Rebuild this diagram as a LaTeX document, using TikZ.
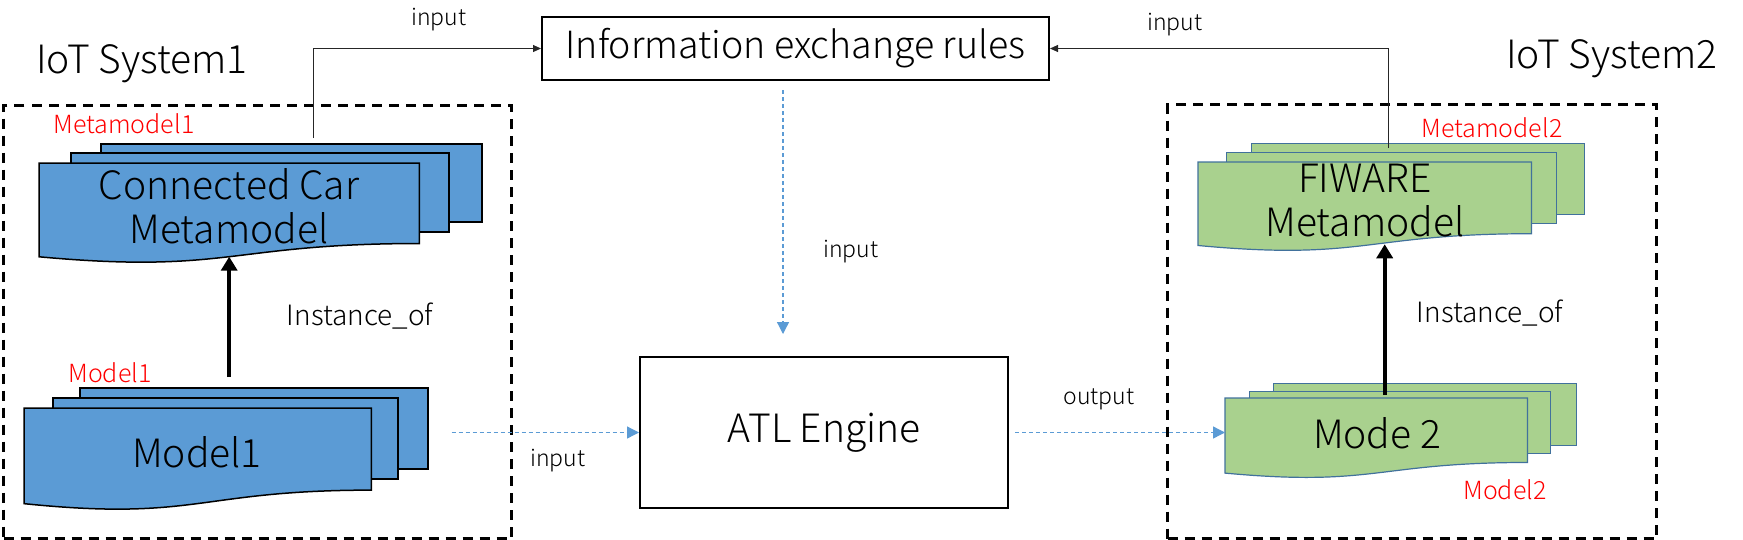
\documentclass[tikz,border=0pt]{standalone}
\usepackage{fontspec}
\setmainfont{Noto Sans CJK JP Light}
\usetikzlibrary{arrows.meta,calc}
\definecolor{docblue}{HTML}{5B9BD5}
\definecolor{docgreen}{HTML}{A9D18E}
\definecolor{docgreenline}{HTML}{41719C}
\definecolor{lblred}{HTML}{FF0000}
\newcommand{\docsheet}[2]{%
  \path[#1] (#2.north west) -- (#2.north east) -- ($(#2.north east)!0.802!(#2.south east)$)
    .. controls ($(#2.north)!0.802!(#2.south)$) and ($(#2.north)!1.108!(#2.south)$) ..
    ($(#2.north west)!0.934!(#2.south west)$) -- cycle;}
\tikzset{
  bigtxt/.style={font=\fontsize{39}{44}\selectfont, inner sep=0pt, align=center},
  smalltxt/.style={font=\fontsize{23}{27}\selectfont, inner sep=0pt},
  midtxt/.style={font=\fontsize{28}{32}\selectfont, inner sep=0pt},
  redtxt/.style={font=\fontsize{25}{30}\selectfont, text=lblred, inner sep=0pt},
  sheet/.style={inner sep=0pt, anchor=north west},
  bluefill/.style={fill=docblue, draw=black, line width=1.5pt},
  greenfill/.style={fill=docgreen, draw=docgreenline, line width=1.2pt},
  sysbox/.style={draw, line width=3pt, dash pattern=on 10pt off 7pt, inner sep=0pt, anchor=north west},
  plainbox/.style={draw, line width=2pt, inner sep=0pt, anchor=north west, font=\fontsize{39}{44}\selectfont},
  bluearrow/.style={draw=docblue, line width=1.3pt, dash pattern=on 4pt off 3pt, -{Triangle[length=12pt,width=12pt]}},
  thinarrow/.style={draw=black!85, line width=1pt, -{Triangle[length=8pt,width=7pt]}},
  thickarrow/.style={line width=4pt, -{Triangle[length=14pt,width=16pt]}}
}
\begin{document}
\begin{tikzpicture}[x=1pt,y=-1pt]
\useasboundingbox (0,0) rectangle (1743,539);
% system boxes
\node[sysbox, minimum width=508pt, minimum height=433pt] (sys1) at (2,104) {};
\node[sysbox, minimum width=489pt, minimum height=434pt] (sys2) at (1166,103) {};
\node[bigtxt] (sys1lbl) at (142,64) {IoT System1};
\node[bigtxt] (sys2lbl) at (1612,59) {IoT System2};
% central boxes
\node[plainbox, minimum width=507pt, minimum height=63pt, font=\fontsize{37.5}{44}\selectfont] (info) at (541,16) {Information exchange rules};
\node[plainbox, minimum width=368pt, minimum height=151pt] (atl) at (639,356) {ATL Engine};
% Metamodel1 stack
\node[sheet, bluefill, minimum width=381pt, minimum height=78pt] (mm1c) at (100,143) {};
\node[sheet, bluefill, minimum width=378pt, minimum height=79pt] (mm1b) at (70,152) {};
\node[sheet, minimum width=380pt, minimum height=100pt] (mm1a) at (39,163) {};
\docsheet{bluefill}{mm1a}
\node[bigtxt] (mm1t) at (229,206) {Connected Car\\Metamodel};
\node[redtxt] (mm1lbl) at (124,124) {Metamodel1};
% Model1 stack
\node[sheet, bluefill, minimum width=348pt, minimum height=81pt] (m1c) at (79,387) {};
\node[sheet, bluefill, minimum width=345pt, minimum height=81pt] (m1b) at (52,397) {};
\node[sheet, minimum width=347pt, minimum height=102pt] (m1a) at (24,408) {};
\docsheet{bluefill}{m1a}
\node[bigtxt] (m1t) at (197,452) {Model1};
\node[redtxt] (m1lbl) at (110,373) {Model1};
% Metamodel2 stack
\node[sheet, greenfill, minimum width=333pt, minimum height=71pt] (mm2c) at (1251,143) {};
\node[sheet, greenfill, minimum width=330pt, minimum height=71pt] (mm2b) at (1226,152) {};
\node[sheet, minimum width=333pt, minimum height=89pt] (mm2a) at (1198,162) {};
\docsheet{greenfill}{mm2a}
\node[bigtxt] (mm2t) at (1365,201) {FIWARE\\Metamodel};
\node[redtxt] (mm2lbl) at (1492,128) {Metamodel2};
% Model2 stack
\node[sheet, greenfill, minimum width=303pt, minimum height=62pt] (m2c) at (1273,383) {};
\node[sheet, greenfill, minimum width=301pt, minimum height=62pt] (m2b) at (1249,391) {};
\node[sheet, minimum width=302pt, minimum height=80pt] (m2a) at (1225,398) {};
\docsheet{greenfill}{m2a}
\node[bigtxt] (m2t) at (1377,433) {Mode 2};
\node[redtxt] (m2lbl) at (1505,490) {Model2};
% instance_of arrows
\coordinate (mm1bot) at ($(mm1a.north)!0.933!(mm1a.south)$);
\draw[thickarrow, shorten <=10pt] (mm1bot |- m1c.north) -- (mm1bot);
\coordinate (mm2bot) at ($(mm2a.north)!0.92!(mm2a.south)+(20,0)$);
\draw[thickarrow, shorten <=-12pt] (mm2bot |- m2c.north) -- (mm2bot);
\node[midtxt] (inst1) at (360,316) {Instance\_of};
\node[midtxt] (inst2) at (1490,313) {Instance\_of};
% input lines to rules
\draw[thinarrow, shorten <=5pt] ([xshift=22.5pt]mm1c.north) |- (info.west);
\draw[thinarrow] ([xshift=-29.5pt,yshift=-5pt]mm2c.north) |- (info.east);
\node[smalltxt] (in1) at (439,20) {input};
\node[smalltxt] (in2) at (1175,25) {input};
% dashed flows
\draw[bluearrow, shorten <=9pt, shorten >=22pt] ([xshift=-12.5pt]info.south) -- ([xshift=-12.5pt]info.south |- atl.north);
\node[smalltxt] (in3) at (851,252) {input};
\draw[bluearrow, shorten <=23pt] (m1c.east |- atl.west) -- (atl.west);
\node[smalltxt] (in4) at (558,461) {input};
\draw[bluearrow, shorten <=6pt] (atl.east) -- (atl.east -| m2a.west);
\node[smalltxt] (out1) at (1099,399) {output};
\end{tikzpicture}
\end{document}
